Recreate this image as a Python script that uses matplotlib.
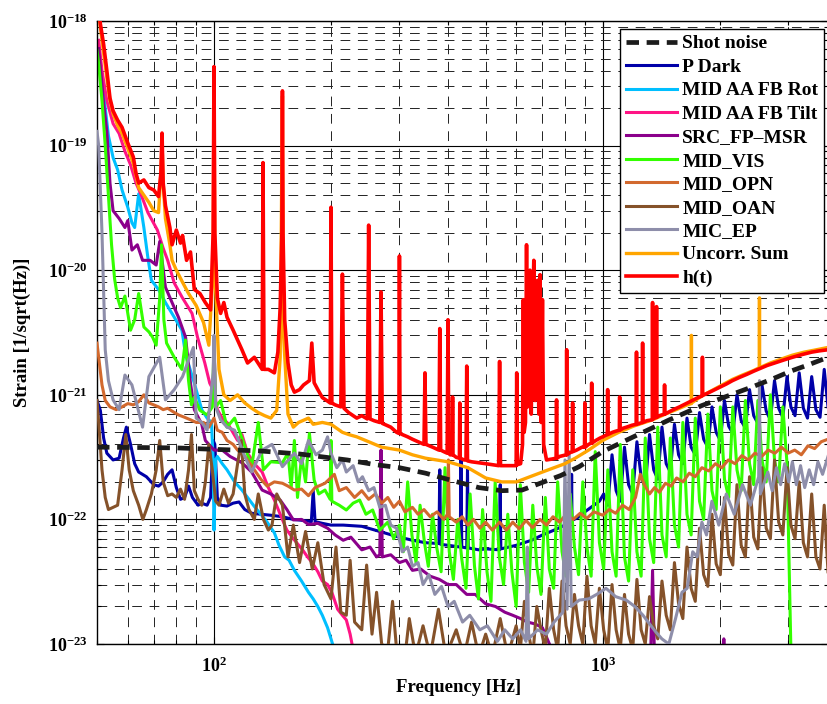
import matplotlib
matplotlib.use("Agg")
import matplotlib.pyplot as plt
from matplotlib.ticker import LogLocator, NullFormatter

# ---------------- data: (frequency [Hz], strain [1/sqrt(Hz)]) ----------------
SHOT = [(50, 3.8e-22), (80, 3.75e-22), (100, 3.65e-22), (130, 3.55e-22), (166, 3.35e-22),
        (220, 3.0e-22), (260, 2.75e-22), (300, 2.6e-22), (350, 2.35e-22), (410, 2.05e-22),
        (480, 1.8e-22), (550, 1.7e-22), (620, 1.72e-22), (700, 1.98e-22), (780, 2.25e-22),
        (870, 2.65e-22), (1000, 3.5e-22), (1200, 4.6e-22), (1485, 6.3e-22), (1800, 8.2e-22),
        (2100, 9.8e-22), (2430, 1.16e-21), (2750, 1.35e-21), (3050, 1.55e-21), (3400, 1.75e-21),
        (3800, 2.0e-21)]

P_DARK = [(50, 9.0e-22), (51, 7.5e-22), (52, 4.5e-22), (53, 3.4e-22), (55, 3.0e-22), (57, 3.1e-22),
          (58.5, 4.5e-22), (59.5, 5.5e-22), (61, 4.0e-22), (62.5, 2.8e-22), (64, 2.4e-22), (67, 2.2e-22),
          (70, 1.9e-22), (72, 1.85e-22), (74, 2.0e-22), (76, 2.3e-22), (78, 2.5e-22), (80, 1.8e-22),
          (82, 1.45e-22), (84, 1.5e-22), (86, 1.85e-22), (88, 1.5e-22), (91, 1.3e-22), (93, 1.35e-22),
          (96, 1.3e-22), (98, 1.5e-22), (99.5, 4.3e-22), (100.5, 4.0e-22), (102, 1.5e-22), (104, 1.3e-22),
          (108, 1.28e-22), (112, 1.35e-22), (116, 1.38e-22), (120, 1.2e-22), (125, 1.12e-22), (132, 1.1e-22),
          (140, 1.08e-22), (150, 1.05e-22), (160, 1.0e-22), (170, 9.8e-23), (178, 9.6e-23), (180, 1.7e-22),
          (182, 9.6e-23), (190, 9.3e-23), (200, 9.0e-23), (215, 9.0e-23), (240, 8.8e-23), (267, 8.0e-23),
          (295, 7.3e-23), (324, 6.8e-23), (350, 6.5e-23), (379, 6.4e-23), (381, 2.5e-22), (383, 6.3e-23),
          (400, 6.2e-23), (430, 6.0e-23), (432, 3.0e-22), (434, 6.0e-23), (447, 5.9e-23), (449, 2.6e-22),
          (451, 5.9e-23), (480, 5.7e-23), (500, 5.8e-23), (543, 5.7e-23), (545, 1.9e-22), (547, 5.8e-23),
          (600, 6.2e-23), (656, 6.8e-23), (700, 7.5e-23), (750, 8.2e-23), (800, 9.0e-23), (830, 9.7e-23),
          (832, 2.3e-22), (834, 9.8e-23), (870, 1.05e-22), (900, 1.15e-22), (950, 1.3e-22), (981, 1.4e-22),
          (1006, 1.6e-22), (1031, 1.3e-22), (1057, 3.3e-22), (1083, 1.7e-22), (1110, 1.4e-22),
          (1138, 3.8e-22), (1166, 1.9e-22), (1195, 1.6e-22), (1225, 4.2e-22), (1256, 2.2e-22),
          (1287, 1.8e-22), (1320, 4.8e-22), (1353, 2.5e-22), (1386, 2.1e-22), (1421, 5.5e-22),
          (1457, 2.8e-22), (1493, 2.4e-22), (1530, 5.8e-22), (1568, 3.3e-22), (1608, 2.8e-22),
          (1648, 6.5e-22), (1689, 3.8e-22), (1731, 3.3e-22), (1775, 7.2e-22), (1819, 4.4e-22),
          (1865, 3.8e-22), (1911, 8.0e-22), (1959, 5.0e-22), (2008, 4.3e-22), (2058, 9.0e-22),
          (2110, 5.6e-22), (2162, 4.9e-22), (2216, 1.0e-21), (2272, 6.2e-22), (2329, 5.4e-22),
          (2387, 1.1e-21), (2447, 6.8e-22), (2508, 5.9e-22), (2570, 1.2e-21), (2635, 7.4e-22),
          (2701, 6.3e-22), (2768, 1.3e-21), (2837, 7.8e-22), (2908, 6.6e-22), (2981, 1.4e-21),
          (3050, 8.0e-22), (3126, 6.8e-22), (3204, 1.5e-21), (3284, 7.8e-22), (3366, 6.5e-22),
          (3450, 1.4e-21), (3537, 7.6e-22), (3625, 6.6e-22), (3716, 1.6e-21), (3800, 8.0e-22)]

AA_ROT = [(50.5, 6e-19), (51.5, 3.5e-19), (52.5, 2.0e-19), (53.5, 1.2e-19), (55, 8.0e-20), (56.5, 6.4e-20),
          (58, 4.4e-20), (60, 3.2e-20), (61.5, 2.4e-20), (62.5, 2.2e-20), (64, 4.1e-20), (66, 2.2e-20),
          (67.5, 1.3e-20), (69, 8.3e-21), (72, 7.0e-21), (75, 5.5e-21), (79, 4.2e-21), (82.7, 3.3e-21),
          (84.5, 2.1e-21), (89, 1.24e-21), (93, 7.6e-22), (96, 6.5e-22), (98.5, 6.0e-22), (99.5, 3e-22),
          (100, 8.2e-23), (101, 3e-22), (102, 3.2e-22), (105, 2.8e-22), (108, 2.5e-22), (113, 2.0e-22),
          (118, 1.72e-22), (122, 1.5e-22), (127, 1.27e-22), (132, 1.1e-22), (137, 9.5e-23), (143, 7.8e-23),
          (147, 6.2e-23), (152, 5.0e-23), (156, 4.7e-23), (161, 3.9e-23), (168, 3.2e-23), (175, 2.6e-23),
          (180, 2.3e-23), (185, 2.0e-23), (190, 1.7e-23), (196, 1.35e-23), (200, 1.1e-23), (204, 9e-24)]

AA_TILT = [(50.5, 7e-19), (51.5, 4e-19), (53, 2.3e-19), (55, 1.5e-19), (57, 1.25e-19), (59, 9e-20),
           (61, 7e-20), (63, 5.0e-20), (65, 4.0e-20), (67.6, 2.9e-20), (71.5, 2.1e-20), (74, 1.5e-20),
           (76, 1.2e-20), (79, 7.9e-21), (82.7, 6.1e-21), (85, 5.3e-21), (87.8, 4.5e-21), (90.7, 2.9e-21),
           (94.7, 1.8e-21), (97.5, 1.24e-21), (99.5, 1.1e-21), (100, 2.5e-21), (101, 9e-22), (102, 7.6e-22),
           (105, 6.5e-22), (108, 6.0e-22), (111, 5.2e-22), (115, 4.3e-22), (118, 4.8e-22), (122, 3.4e-22),
           (127, 2.8e-22), (133, 2.4e-22), (138, 1.8e-22), (143, 1.43e-22), (148, 1.1e-22), (154, 8.2e-23),
           (160, 7.0e-23), (169, 5.7e-23), (174, 5.0e-23), (179, 4.5e-23), (185, 3.8e-23), (190, 3.2e-23),
           (196, 3.0e-23), (201, 2.6e-23), (208, 1.9e-23), (214, 1.7e-23), (219, 1.56e-23), (224, 1.2e-23),
           (228, 9e-24)]

SRC = [(50.5, 6e-19), (51, 4.3e-19), (52, 2.2e-19), (53, 1.3e-19), (54, 5.0e-20), (55, 3.0e-20),
       (57, 2.6e-20), (59, 2.2e-20), (60, 2.5e-20), (61.5, 1.45e-20), (63.5, 1.6e-20), (65.5, 1.2e-20),
       (68.5, 1.2e-20), (71, 1.1e-20), (72.5, 1.7e-20), (75, 7.3e-21), (78, 5.5e-21), (81, 4.2e-21),
       (84.5, 2.9e-21), (87, 1.24e-21), (89, 7.6e-22), (93, 5.8e-22), (95, 4.3e-22), (100, 3.6e-22),
       (105, 3.6e-22), (110, 3.2e-22), (118, 2.85e-22), (125, 2.4e-22), (133, 1.72e-22), (140, 1.6e-22),
       (148, 1.43e-22), (154, 1.2e-22), (160, 9.9e-23), (168, 1.0e-22), (175, 9.1e-23), (185, 9.3e-23),
       (196, 8.5e-23), (205, 7.5e-23), (215, 6.8e-23), (225, 7.2e-23), (240, 5.7e-23), (252, 6.0e-23),
       (262, 5.0e-23), (267, 5.2e-23), (269, 3.6e-22), (271, 5.0e-23), (285, 5.2e-23), (300, 4.5e-23),
       (312, 4.7e-23), (324, 3.9e-23), (340, 4.0e-23), (360, 3.5e-23), (380, 3.3e-23), (400, 3.0e-23),
       (420, 3.0e-23), (447, 2.5e-23), (470, 2.5e-23), (500, 2.1e-23), (530, 2.0e-23), (560, 1.8e-23),
       (587, 1.7e-23), (615, 1.6e-23), (640, 1.5e-23), (670, 1.45e-23), (700, 1.35e-23), (720, 1.1e-23),
       (740, 9e-24), (1330, 9e-24), (1344, 3.9e-23), (1358, 9e-24), (2040, 9e-24), (2050, 1.1e-23),
       (2060, 9e-24), (3800, 9e-24)]

MID_VIS = [(50, 5.8e-19), (50.5, 4.5e-19), (51.5, 2.3e-19), (52.5, 1.0e-19), (53.5, 4.0e-20),
           (54.5, 1.6e-20), (55.5, 8.5e-21), (56.5, 6.0e-21), (57.5, 5.0e-21), (59, 6.2e-21), (61, 3.3e-21),
           (62.5, 4.0e-21), (64, 6.5e-21), (66, 3.5e-21), (68, 3.2e-21), (69.5, 2.9e-21), (71, 2.5e-21),
           (72.5, 6e-21), (73.3, 1.6e-20), (74.3, 4e-21), (75.5, 2.6e-21), (79, 2.0e-21), (82.7, 1.6e-21),
           (84.5, 2.75e-21), (86, 1.3e-21), (87.5, 8.3e-22), (89, 9.6e-22), (92, 7.5e-22), (96, 6.9e-22),
           (99, 8e-22), (100, 2.5e-21), (101, 8e-22), (104, 9.0e-22), (108, 5.5e-22), (113, 6.5e-22),
           (118, 4.5e-22), (125, 2.65e-22), (130, 6.0e-22), (134, 2.5e-22), (140, 2.9e-22), (150, 2.85e-22),
           (155, 3.4e-22), (158, 1.8e-22), (161, 4.3e-22), (164, 1.5e-22), (168, 3.2e-22), (172, 2.0e-22),
           (176, 4.9e-22), (181, 2.07e-22), (186, 1.6e-22), (193, 1.72e-22), (199, 1.45e-22), (200, 4.3e-22),
           (201, 1.4e-22), (210, 1.3e-22), (219, 1.19e-22), (228, 1.35e-22), (237, 1.43e-22), (246, 1.1e-22),
           (256, 1.19e-22), (267, 8.2e-23), (280, 9.5e-23), (290, 7.0e-23),
           (300, 9e-23), (307, 5.5e-23), (315, 2.0e-22), (323, 7.5e-23), (331, 4.5e-23), (339, 1.3e-22),
           (348, 6.5e-23), (356, 4.2e-23), (365, 1.1e-22), (374, 6.0e-23), (384, 3.8e-23), (393, 2.6e-22),
           (403, 5.5e-23), (413, 3.3e-23), (424, 1.0e-22), (434, 4.8e-23), (445, 2.8e-23), (456, 1.6e-22),
           (468, 4.2e-23), (479, 2.3e-23), (491, 1.2e-22), (504, 3.8e-23), (516, 2.2e-23), (529, 2.0e-22),
           (542, 5.0e-23), (556, 3.0e-23), (570, 1.1e-22), (584, 3.8e-23), (599, 2.0e-23), (614, 1.9e-22),
           (629, 4.5e-23), (645, 2.6e-23), (661, 1.3e-22), (677, 4.2e-23), (694, 2.5e-23), (712, 1.5e-22),
           (729, 4.0e-23), (748, 2.8e-23), (766, 2.0e-22), (786, 5.5e-23), (805, 3.5e-23), (825, 1.6e-22),
           (846, 6.0e-23), (867, 3.6e-23), (889, 2.0e-22), (911, 6.0e-23), (934, 3.5e-23), (957, 3.5e-22),
           (981, 6.5e-23), (1006, 4.0e-23), (1031, 2.5e-22), (1057, 5.5e-23), (1083, 3.5e-23),
           (1110, 4.0e-22), (1138, 5.0e-23), (1166, 3.2e-23), (1195, 2.5e-22), (1225, 5.5e-23),
           (1256, 3.5e-23), (1287, 4.5e-22), (1320, 7.0e-23), (1353, 4.5e-23), (1386, 5.5e-22),
           (1421, 7.5e-23), (1457, 5.0e-23), (1493, 4.5e-22), (1530, 9.0e-23), (1568, 6.0e-23),
           (1608, 6.0e-22), (1648, 1.1e-22), (1689, 7.5e-23), (1731, 6.5e-22), (1775, 1.4e-22),
           (1819, 1.0e-22), (1865, 7.0e-22), (1911, 1.7e-22), (1959, 1.2e-22), (2008, 8.0e-22),
           (2058, 2.1e-22), (2110, 1.5e-22), (2162, 8.0e-22), (2216, 2.5e-22), (2272, 1.7e-22),
           (2329, 9.0e-22), (2387, 2.8e-22), (2447, 1.9e-22), (2508, 9.0e-22), (2570, 3.0e-22),
           (2635, 2.0e-22), (2701, 1.0e-21), (2768, 3.0e-22), (2837, 2.0e-22), (2908, 8.0e-22),
           (2981, 2.8e-22), (3050, 9e-24)]

MID_OPN = [(50, 2.6e-21), (50.5, 2.0e-21), (51.5, 1.2e-21), (52.5, 9e-22), (54, 8.0e-22), (56, 7.6e-22),
           (58, 8.0e-22), (60, 8.5e-22), (62, 8.3e-22), (64, 8.8e-22), (66, 1.0e-21), (68, 8.6e-22),
           (70, 8.3e-22), (72, 8.0e-22), (74, 7.6e-22), (76, 7.8e-22), (78, 7.4e-22), (81, 6.9e-22),
           (84, 6.6e-22), (87, 6.3e-22), (90, 6.0e-22), (94, 6.0e-22), (97, 5.5e-22), (100, 6.5e-22),
           (102, 5.2e-22), (105, 5.0e-22), (108, 4.3e-22), (112, 4.0e-22), (115, 3.6e-22), (119, 3.3e-22),
           (122, 3.0e-22), (127, 2.5e-22), (132, 2.1e-22), (137, 1.85e-22), (143, 2.0e-22), (150, 1.95e-22),
           (155, 1.85e-22), (161, 1.72e-22), (168, 1.75e-22), (175, 1.55e-22), (182, 1.8e-22),
           (193, 1.95e-22), (204, 2.3e-22), (210, 1.7e-22), (219, 1.8e-22), (230, 1.5e-22), (240, 1.7e-22),
           (250, 1.45e-22), (260, 1.6e-22), (270, 1.35e-22), (280, 1.5e-22), (290, 1.25e-22), (300, 1.4e-22),
           (310, 1.15e-22), (324, 1.25e-22), (335, 1.1e-22), (347, 1.2e-22), (360, 1.05e-22), (375, 1.15e-22),
           (390, 1.0e-22), (399, 1.1e-22), (401, 3.0e-22), (403, 1.05e-22), (420, 9.5e-23), (435, 1.05e-22),
           (450, 9.0e-23), (465, 1.0e-22), (483, 8.5e-23), (500, 9.5e-23), (520, 8.2e-23), (543, 9.5e-23),
           (565, 8.2e-23), (587, 9.5e-23), (610, 8.4e-23), (635, 9.8e-23), (660, 8.6e-23), (690, 1.0e-22),
           (717, 9e-23), (745, 1.05e-22), (775, 9.5e-23), (805, 1.1e-22), (840, 1.0e-22), (875, 1.12e-22),
           (910, 1.02e-22), (950, 1.15e-22), (1000, 1.08e-22), (1040, 1.2e-22), (1080, 1.12e-22),
           (1125, 1.3e-22), (1170, 1.2e-22), (1215, 1.5e-22), (1250, 2.3e-22), (1280, 1.9e-22),
           (1320, 1.6e-22), (1360, 1.8e-22), (1400, 1.65e-22), (1450, 1.95e-22), (1500, 1.85e-22),
           (1550, 2.15e-22), (1610, 2.0e-22), (1670, 2.35e-22), (1730, 2.2e-22), (1800, 2.6e-22),
           (1875, 2.45e-22), (1950, 2.8e-22), (2025, 2.6e-22), (2105, 3.0e-22), (2190, 2.8e-22),
           (2280, 3.25e-22), (2370, 3.0e-22), (2465, 3.4e-22), (2565, 3.2e-22), (2665, 3.6e-22),
           (2775, 3.4e-22), (2885, 3.8e-22), (3000, 3.4e-22), (3120, 3.6e-22), (3245, 3.3e-22),
           (3375, 3.9e-22), (3510, 3.7e-22), (3650, 4.2e-22), (3800, 4.4e-22)]

MID_OAN = [(50, 9e-22), (50.5, 6e-22), (51.5, 2.5e-22), (52.5, 1.5e-22), (53.5, 1.2e-22), (55, 1.25e-22),
           (56.5, 1.3e-22), (58, 2.5e-22), (59.3, 4.8e-22), (60.5, 2.5e-22), (62, 1.7e-22), (64, 1.3e-22),
           (65.6, 1.0e-22), (67, 1.2e-22), (69, 1.6e-22), (71, 2.5e-22), (72.5, 4.3e-22), (74, 2.0e-22),
           (76, 1.55e-22), (78, 1.6e-22), (80, 1.5e-22), (82, 1.75e-22), (84, 1.45e-22), (86, 2.5e-22),
           (87.5, 4.8e-22), (89, 1.7e-22), (91, 1.45e-22), (93, 1.3e-22), (95, 2.0e-22), (97, 4.0e-22),
           (99, 2.5e-22), (101, 1.4e-22), (103, 1.3e-22), (106, 1.75e-22), (109, 1.35e-22), (112, 1.6e-22),
           (115, 2.8e-22), (117.5, 4.3e-22), (120, 1.6e-22), (123, 1.2e-22), (127, 1.0e-22), (130, 1.6e-22),
           (134, 1.0e-22), (138, 8.2e-23), (141, 9e-23), (145, 1.6e-22), (150, 1.3e-22), (155, 5.0e-23),
           (160, 9e-23), (166, 4.5e-23), (172, 8e-23), (179, 4.0e-23), (185, 6.5e-23), (192, 3.0e-23),
           (200, 2.3e-23), (206, 6.0e-23), (212, 1.8e-23), (219, 1.7e-23), (224, 4.7e-23), (230, 1.5e-23),
           (240, 1.3e-23), (247, 4.3e-23), (255, 1.2e-23), (262, 2.6e-23), (270, 1.0e-23), (280, 9e-24),
           (288, 2.2e-23), (295, 9e-24), (310, 8e-24), (318, 1.6e-23), (330, 8e-24), (345, 1.4e-23),
           (360, 8e-24), (378, 1.9e-23), (395, 8e-24), (420, 1.3e-23), (440, 8e-24), (460, 1.5e-23),
           (480, 8e-24), (500, 1.2e-23), (520, 8e-24), (545, 1.6e-23), (570, 8e-24),
           (599, 1.4e-23), (614, 9e-24), (629, 2.2e-23), (645, 1.2e-23), (661, 8e-24), (677, 2.0e-23),
           (694, 1.3e-23), (712, 9e-24), (729, 2.8e-23), (748, 1.3e-23), (766, 9e-24), (786, 3.2e-23),
           (805, 1.4e-23), (825, 1.0e-23), (846, 2.5e-23), (867, 1.4e-23), (889, 1.0e-23), (911, 3.5e-23),
           (934, 1.4e-23), (957, 1.0e-23), (981, 2.8e-23), (1006, 1.3e-23), (1031, 9e-24), (1057, 3.0e-23),
           (1083, 1.3e-23), (1110, 9e-24), (1138, 2.5e-23), (1166, 1.2e-23), (1195, 9e-24), (1225, 3.3e-23),
           (1256, 1.3e-23), (1287, 1.0e-23), (1320, 2.4e-23), (1353, 1.4e-23), (1386, 1.1e-23),
           (1421, 3.2e-23), (1457, 1.7e-23), (1493, 1.3e-23), (1530, 4.5e-23), (1568, 2.1e-23),
           (1608, 1.6e-23), (1648, 6.0e-23), (1689, 2.8e-23), (1731, 2.2e-23), (1775, 8.5e-23),
           (1819, 3.6e-23), (1865, 2.9e-23), (1911, 1.1e-22), (1959, 4.4e-23), (2008, 3.6e-23),
           (2058, 1.5e-22), (2110, 5.2e-23), (2162, 4.3e-23), (2216, 1.9e-22), (2272, 6.2e-23),
           (2329, 5.0e-23), (2387, 2.2e-22), (2447, 7.2e-23), (2508, 5.8e-23), (2570, 2.6e-22),
           (2635, 8.5e-23), (2701, 7.0e-23), (2768, 3.0e-22), (2837, 9.5e-23), (2908, 7.5e-23),
           (2981, 2.6e-22), (3050, 9.0e-23), (3126, 7.0e-23), (3204, 2.0e-22), (3284, 6.5e-23),
           (3366, 5.0e-23), (3450, 1.6e-22), (3537, 5.0e-23), (3625, 4.0e-23), (3716, 1.3e-22),
           (3800, 3.8e-23)]

MIC_EP = [(50, 1.3e-19), (50.5, 1.0e-19), (51.5, 2.0e-20), (52.5, 2.3e-21), (53.5, 1.3e-21), (55, 9.1e-22),
          (57, 7.6e-22), (59, 1.44e-21), (61.5, 1.2e-21), (65.5, 5.5e-22), (68, 1.4e-21), (72.5, 2.0e-21),
          (75, 9.1e-22), (79, 1.1e-21), (83, 1.4e-21), (86, 1.9e-21), (88.5, 2.4e-21), (90, 6.5e-22),
          (93, 6.0e-22), (96, 5.2e-22), (99.5, 1.5e-21), (100, 3.0e-21), (101, 8e-22), (104, 6.3e-22),
          (108, 5.5e-22), (113, 5.2e-22), (120, 3.2e-22), (125, 2.4e-22), (133, 3.6e-22), (141, 4.0e-22),
          (150, 2.65e-22), (161, 3.4e-22), (168, 2.8e-22), (175, 4.3e-22), (183, 3.3e-22), (190, 3.6e-22),
          (196, 4.6e-22), (200, 3.4e-22), (207, 2.6e-22), (214, 3.0e-22), (219, 2.4e-22), (228, 2.7e-22),
          (235, 2.0e-22), (241, 2.2e-22), (250, 1.7e-22), (258, 1.8e-22), (267, 1.25e-22), (276, 1.3e-22),
          (285, 9e-23), (295, 8.5e-23), (305, 5.5e-23), (315, 6.0e-23), (324, 4.2e-23), (335, 4.5e-23),
          (345, 3.0e-23), (357, 3.6e-23), (370, 2.5e-23), (385, 2.9e-23), (400, 2.0e-23), (415, 2.2e-23),
          (436, 1.5e-23), (455, 1.7e-23), (483, 1.3e-23), (505, 1.4e-23), (536, 1.05e-23), (560, 1.3e-23),
          (587, 1.1e-23), (615, 1.3e-23), (635, 1.05e-23), (640, 6e-23), (645, 1.1e-23), (680, 1.3e-23),
          (717, 1.2e-23), (750, 1.5e-23), (790, 1.8e-23), (800, 3.0e-22), (810, 1.9e-23), (820, 3.5e-22),
          (830, 2.0e-23), (870, 2.25e-23), (920, 2.3e-23), (965, 2.5e-23), (1020, 2.8e-23), (1080, 2.4e-23),
          (1150, 2.25e-23), (1210, 2.0e-23), (1270, 1.7e-23), (1320, 1.45e-23), (1370, 1.25e-23),
          (1420, 1.1e-23), (1480, 1.0e-23), (1540, 1.6e-23), (1600, 2.6e-23), (1650, 2.8e-23),
          (1705, 5.5e-23), (1750, 5.0e-23), (1800, 9.5e-23), (1850, 7.5e-23), (1910, 1.4e-22),
          (1990, 9.0e-23), (2080, 1.6e-22), (2180, 1.1e-22), (2290, 1.9e-22), (2400, 1.3e-22),
          (2520, 2.2e-22), (2532, 1.3e-21), (2545, 1.6e-22), (2660, 2.4e-22), (2730, 1.7e-22),
          (2800, 2.6e-22), (2870, 1.9e-22), (2940, 2.8e-22), (3010, 2.0e-22), (3077, 2.9e-22),
          (3150, 1.9e-22), (3230, 2.7e-22), (3310, 1.8e-22), (3400, 2.5e-22), (3490, 1.9e-22),
          (3580, 2.9e-22), (3680, 2.3e-22), (3800, 3.2e-22)]

UNCORR = [(50.5, 1.3e-18), (51, 9e-19), (52, 5.5e-19), (53, 3.5e-19), (54, 2.3e-19), (55, 1.8e-19),
          (56.5, 1.45e-19), (58, 1.25e-19), (60, 9.5e-20), (62, 7.2e-20), (64, 4.6e-20), (66, 4.0e-20),
          (68, 3.5e-20), (70, 3.0e-20), (72, 2.9e-20), (73, 6e-20), (73.5, 1.1e-19), (74, 5e-20),
          (75, 2.6e-20), (77, 1.6e-20), (78, 1.2e-20), (80, 1.0e-20), (83, 8.0e-21), (86, 6.5e-21),
          (90, 5.2e-21), (94, 3.8e-21), (97, 2.5e-21), (99.5, 1e-20), (100, 4.0e-19), (100.5, 1e-20),
          (103, 1.6e-21), (106, 1.0e-21), (110, 9.0e-22), (115, 1.0e-21), (120, 8.6e-22), (125, 7.8e-22),
          (130, 7.2e-22), (135, 6.8e-22), (140, 6.5e-22), (145, 7.5e-22), (148, 2e-21), (150, 2.5e-19),
          (151, 3e-21), (155, 7e-22), (160, 5.5e-22), (165, 6.0e-22), (175, 6.5e-22), (180, 5.8e-22),
          (190, 6.0e-22), (200, 5.8e-22), (214, 5.0e-22), (222, 4.8e-22), (233, 4.6e-22), (250, 4.2e-22),
          (270, 3.8e-22), (300, 3.6e-22), (324, 3.3e-22), (350, 3.1e-22), (400, 2.9e-22), (450, 2.6e-22),
          (500, 2.15e-22), (550, 2.0e-22), (600, 2.0e-22), (650, 2.2e-22), (700, 2.4e-22), (750, 2.6e-22),
          (800, 2.8e-22), (850, 3.1e-22), (920, 3.6e-22), (1000, 4.3e-22), (1100, 5.0e-22),
          (1200, 5.6e-22), (1344, 6.3e-22), (1450, 7.0e-22), (1577, 7.8e-22), (1650, 8.3e-22),
          (1690, 8.5e-22), (1692, 3.0e-21), (1694, 8.6e-22), (1800, 9.8e-22), (2000, 1.17e-21),
          (2158, 1.33e-21), (2300, 1.45e-21), (2450, 1.57e-21), (2530, 1.65e-21), (2532, 6.0e-21),
          (2534, 1.65e-21), (2700, 1.8e-21), (2900, 1.95e-21), (3077, 2.08e-21), (3300, 2.2e-21),
          (3550, 2.3e-21), (3800, 2.4e-21)]

H_T = [(50.5, 1.3e-18), (51, 9.5e-19), (52, 6.5e-19), (53, 4.0e-19), (54, 2.4e-19), (55, 1.9e-19),
       (56.5, 1.6e-19), (58, 1.4e-19), (60, 1.05e-19), (62, 8.1e-20), (63, 6.0e-20), (64, 5.0e-20),
       (66, 5.3e-20), (68, 4.6e-20), (70, 4.4e-20), (72, 3.9e-20), (73, 6e-20), (73.5, 1.26e-19),
       (74, 5e-20), (75, 3.3e-20), (77, 2.2e-20), (78, 1.6e-20), (80, 2.1e-20), (82, 1.65e-20),
       (83, 1.9e-20), (85, 1.2e-20), (87, 1.4e-20), (89, 7.0e-21), (92, 6.5e-21), (95, 5.5e-21),
       (98, 4.8e-21), (99.5, 2e-20), (100, 4.3e-19), (100.5, 2e-20), (102, 6.0e-21), (104, 4.5e-21),
       (106, 5.5e-21), (108, 4.2e-21), (112, 3.3e-21), (118, 2.3e-21), (122, 1.8e-21), (127, 2.0e-21),
       (133, 1.6e-21), (133.7, 7.3e-20), (134.5, 1.6e-21), (138, 1.6e-21), (143, 1.5e-21), (146, 2.2e-21),
       (148, 5e-21), (149.5, 2e-20), (150, 2.75e-19), (150.5, 2e-20), (152, 4e-21), (155, 1.8e-21),
       (158, 1.2e-21), (161, 1.05e-21), (166, 1.1e-21), (170, 1.2e-21), (176, 1.3e-21), (178.5, 2.6e-21),
       (181, 1.25e-21), (185, 1.1e-21), (190, 9.5e-22), (195, 9.0e-22), (199, 8.6e-22), (200, 3.2e-20),
       (201, 8.6e-22), (205, 8.3e-22), (212, 8.0e-22), (214, 9.3e-21), (216, 7.8e-22), (222, 7.2e-22),
       (233, 6.5e-22), (240, 6.8e-22), (248, 6.4e-22), (250, 2.3e-20), (252, 6.4e-22), (258, 6.2e-22),
       (267, 6.0e-22), (269, 6.7e-21), (271, 5.9e-22), (285, 5.5e-22), (295, 5.0e-22), (299, 4.9e-22),
       (300, 1.3e-20), (301, 4.9e-22), (305, 4.8e-22), (315, 4.6e-22), (324, 4.4e-22), (335, 4.2e-22),
       (347, 4.0e-22), (349, 1.5e-21), (351, 4.0e-22), (365, 3.8e-22), (379, 3.6e-22), (381, 3.4e-21),
       (383, 3.6e-22), (390, 3.5e-22), (398, 3.4e-22), (400, 4.0e-21), (402, 3.4e-22), (405, 3.3e-22),
       (410, 3.3e-22), (411, 9.6e-22), (412, 3.3e-22), (420, 3.15e-22), (428, 3.1e-22), (429, 8.6e-22),
       (430, 3.1e-22), (440, 3.0e-22), (445, 3.0e-22), (447, 1.7e-21), (449, 2.95e-22), (460, 2.9e-22),
       (480, 2.85e-22), (500, 2.8e-22), (520, 2.75e-22), (540, 2.7e-22), (543, 1.85e-21), (546, 2.7e-22),
       (560, 2.7e-22), (575, 2.7e-22), (587, 2.7e-22), (599, 2.7e-22), (601, 1.5e-21), (603, 2.75e-22),
       (615, 2.8e-22), (622, 4e-22), (625, 5.8e-21), (628, 5e-22), (633, 6e-22), (637, 1.6e-20),
       (641, 8e-22), (645, 3e-21), (650, 1.0e-20), (655, 7e-22), (660, 4e-21), (665, 1.2e-20),
       (670, 9e-22), (675, 2.5e-21), (680, 8.3e-21), (685, 7e-22), (690, 9.2e-21), (695, 6e-22),
       (700, 5.8e-21), (705, 4e-22), (717, 3.0e-22), (740, 3.05e-22), (759, 3.1e-22), (761, 9.1e-22),
       (763, 3.1e-22), (775, 3.2e-22), (790, 3.25e-22), (806, 3.3e-22), (808, 2.3e-21), (810, 3.3e-22),
       (820, 3.4e-22), (835, 3.5e-22), (837, 8.6e-22), (839, 3.5e-22), (857, 3.6e-22), (871, 3.7e-22),
       (885, 3.8e-22), (898, 3.8e-22), (900, 8.6e-22), (902, 3.8e-22), (920, 4.0e-22), (935, 4.1e-22),
       (937, 1.24e-21), (939, 4.1e-22), (960, 4.3e-22), (985, 4.5e-22), (1000, 4.6e-22), (1015, 4.7e-22),
       (1028, 4.8e-22), (1030, 1.1e-21), (1032, 4.8e-22), (1060, 5.0e-22), (1080, 5.1e-22),
       (1104, 5.2e-22), (1106, 9.6e-22), (1108, 5.2e-22), (1130, 5.4e-22), (1152, 5.5e-22),
       (1190, 5.7e-22), (1220, 5.8e-22), (1222, 2.2e-21), (1224, 5.8e-22), (1245, 5.9e-22),
       (1265, 6.0e-22), (1267, 2.6e-21), (1269, 6.0e-22), (1300, 6.2e-22), (1342, 6.3e-22),
       (1344, 5.5e-21), (1346, 6.4e-22), (1360, 6.5e-22), (1374, 6.6e-22), (1376, 5.1e-21),
       (1378, 6.6e-22), (1400, 6.8e-22), (1441, 7.0e-22), (1443, 1.2e-21), (1445, 7.0e-22),
       (1470, 7.2e-22), (1520, 7.6e-22), (1577, 8.0e-22), (1640, 8.5e-22), (1700, 9.0e-22),
       (1760, 9.5e-22), (1804, 9.8e-22), (1806, 2.0e-21), (1808, 9.9e-22), (1850, 1.02e-21),
       (1920, 1.08e-21), (2000, 1.15e-21), (2080, 1.22e-21), (2158, 1.3e-21), (2250, 1.38e-21),
       (2350, 1.46e-21), (2450, 1.55e-21), (2532, 1.62e-21), (2650, 1.72e-21), (2800, 1.82e-21),
       (2950, 1.92e-21), (3077, 2.0e-21), (3250, 2.1e-21), (3450, 2.2e-21), (3600, 2.25e-21),
       (3800, 2.3e-21)]

LABELS = ["Shot noise", "P Dark", "MID AA FB Rot", "MID AA FB Tilt", "SRC_FP\u2013MSR", "MID_VIS",
          "MID_OPN", "MID_OAN", "MIC_EP", "Uncorr. Sum", "h(t)"]
X_TICKS = [1e2, 1e3]
Y_TICKS = [1e-23, 1e-22, 1e-21, 1e-20, 1e-19, 1e-18]

# ---------------- style ----------------
plt.rcParams['font.family'] = ['Liberation Serif', 'DejaVu Serif']
plt.rcParams['font.weight'] = 'bold'
plt.rcParams['mathtext.fontset'] = 'custom'
plt.rcParams['mathtext.rm'] = 'Liberation Serif:bold'
plt.rcParams['mathtext.it'] = 'Liberation Serif:bold'
plt.rcParams['mathtext.bf'] = 'Liberation Serif:bold'
plt.rcParams['mathtext.default'] = 'rm'
plt.rcParams['lines.scale_dashes'] = False

fig = plt.figure(figsize=(8.28, 7.04), dpi=100)
ax = fig.add_axes([97 / 828, 1 - 644 / 704, 731 / 828, 623 / 704])
ax.set_xscale('log')
ax.set_yscale('log')

series = [
    (SHOT, '#1c1c1c', 3.4, (0, (9, 5.5)), 8),
    (P_DARK, '#0000A8', 2.2, '-', 2),
    (AA_ROT, '#00BFFF', 2.2, '-', 2),
    (AA_TILT, '#FF1485', 2.2, '-', 2),
    (SRC, '#8B008B', 2.2, '-', 2),
    (MID_VIS, '#33FF00', 2.2, '-', 2),
    (MID_OPN, '#D2692E', 2.2, '-', 3),
    (MID_OAN, '#85522A', 2.2, '-', 3),
    (MIC_EP, '#8E8EAA', 2.2, '-', 4),
    (UNCORR, '#FFA500', 2.4, '-', 9),
    (H_T, '#FF0000', 2.6, '-', 10),
]

handles = []
for (data, color, lw, ls, z), label in zip(series, LABELS):
    f, v = zip(*data)
    h, = ax.plot(f, v, color=color, lw=lw, ls=ls, zorder=z, label=label,
                 solid_joinstyle='round')
    handles.append(h)

ax.set_xlim(50, 3800)
ax.set_ylim(1e-23, 1e-18)
ax.set_xticks(X_TICKS)
ax.set_yticks(Y_TICKS)
ax.xaxis.set_minor_locator(LogLocator(base=10, subs=[2, 3, 4, 5, 6, 7, 8, 9], numticks=20))
ax.yaxis.set_minor_locator(LogLocator(base=10, subs=[2, 3, 4, 5, 6, 7, 8, 9], numticks=20))
ax.xaxis.set_minor_formatter(NullFormatter())
ax.yaxis.set_minor_formatter(NullFormatter())

ax.grid(which='major', color='black', lw=0.8, ls='-', zorder=0)
ax.grid(which='minor', color='#222222', lw=0.7, ls=(0, (7, 5.5)), zorder=0)
ax.set_axisbelow(True)

ax.tick_params(which='both', direction='in', top=True, right=True, width=0.8)
ax.tick_params(which='major', length=5)
ax.tick_params(which='minor', length=3)
ax.tick_params(axis='y', which='major', labelsize=13, pad=7)
ax.tick_params(axis='x', which='major', labelsize=13, pad=9)
for s in ax.spines.values():
    s.set_linewidth(1.0)

ax.set_xlabel('Frequency [Hz]', fontsize=13.5, fontweight='bold')
ax.set_ylabel('Strain [1/sqrt(Hz)]', fontsize=13.5, fontweight='bold')
ax.xaxis.set_label_coords(0.495, -0.056)
ax.yaxis.set_label_coords(-0.09, 0.5)

leg = ax.legend(handles=handles, loc='upper right', bbox_to_anchor=(1 - 4 / 731, 1 - 8 / 623),
                borderaxespad=0, fontsize=14, frameon=True, fancybox=False, framealpha=1,
                edgecolor='black', borderpad=0.3, handlelength=2.6, handletextpad=0.28,
                labelspacing=0.3)
leg.get_frame().set_linewidth(1.0)
leg.set_zorder(20)

fig.savefig('out.png', dpi=100)
